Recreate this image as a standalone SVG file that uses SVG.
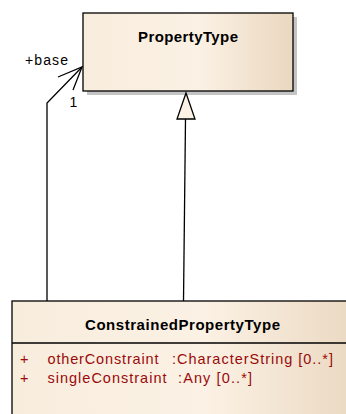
<svg xmlns="http://www.w3.org/2000/svg" width="346" height="414" viewBox="0 0 346 414">
  <style>
    .box { stroke: #000; stroke-width: 1.3; fill: url(#cls); }
    .shadow { fill: #c4c4c4; }
    .name { font-family: "Liberation Sans", Arial, sans-serif; font-size: 15px; font-weight: bold; fill: #000; }
    .attr { font-family: "Liberation Sans", Arial, sans-serif; font-size: 14.5px; fill: #9a0a0a; }
    .lbl { font-family: "Liberation Sans", Arial, sans-serif; font-size: 14px; fill: #000; }
    .edge { stroke: #000; stroke-width: 1.3; fill: none; }
  </style>
  <defs>
    <linearGradient id="cls" x1="0" y1="0" x2="1" y2="0">
      <stop offset="0" stop-color="#f8eddd"/>
      <stop offset="0.55" stop-color="#fbf1e4"/>
      <stop offset="1" stop-color="#ead8c0"/>
    </linearGradient>
  </defs>

  <rect width="346" height="414" fill="#fff"/>

  <g id="PropertyType">
    <rect class="shadow" x="87" y="17" width="210" height="78"/>
    <rect class="box" x="83" y="13" width="210" height="78"/>
    <text class="name" x="138" y="42" textLength="100" lengthAdjust="spacing">PropertyType</text>
  </g>

  <g id="ConstrainedPropertyType">
    <rect class="shadow" x="16" y="305" width="350" height="120"/>
    <rect class="box" x="12" y="301" width="350" height="120"/>
    <line class="edge" x1="12" y1="343" x2="362" y2="343"/>
    <text class="name" x="85" y="330" textLength="195" lengthAdjust="spacing">ConstrainedPropertyType</text>
    <text class="attr" x="20" y="364">+</text>
    <text class="attr" x="47.5" y="364" textLength="111" lengthAdjust="spacing">otherConstraint</text>
    <text class="attr" x="172" y="364" textLength="161" lengthAdjust="spacing">:CharacterString [0..*]</text>
    <text class="attr" x="20" y="383">+</text>
    <text class="attr" x="47.5" y="383" textLength="119" lengthAdjust="spacing">singleConstraint</text>
    <text class="attr" x="178" y="383" textLength="74" lengthAdjust="spacing">:Any [0..*]</text>
  </g>

  <g id="connectors">
    <!-- generalization -->
    <line class="edge" x1="185.5" y1="119" x2="183.5" y2="301"/>
    <polygon points="186,93 177,119 195,119" fill="#fbf1e4" stroke="#000" stroke-width="1.3"/>
    <!-- association +base -->
    <polyline class="edge" points="47,301 47,103 82,67"/>
    <polyline class="edge" points="58,77 82,67 73,90"/>
    <text class="lbl" x="25" y="65" textLength="43" lengthAdjust="spacing">+base</text>
    <text class="lbl" x="69.5" y="107">1</text>
  </g>
</svg>
